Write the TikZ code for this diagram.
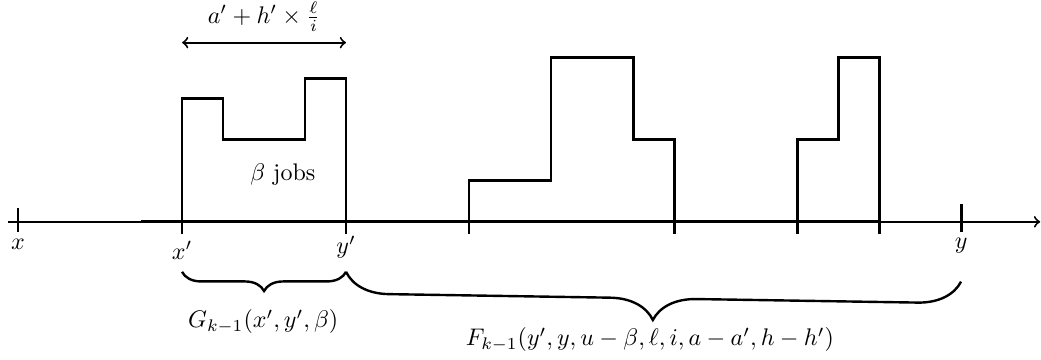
\documentclass[tikz,border=0pt]{standalone}
\usepackage{amsmath,amssymb}
\usetikzlibrary{decorations.pathreplacing}

\tikzset{
  axisline/.style={line width=0.8pt},
  block/.style={line width=1.2pt},
  tickmark/.style={line width=1.2pt},
  brace/.style={decorate,decoration={brace,mirror,amplitude=#1},line width=1pt}
}

\begin{document}
\begin{tikzpicture}[x=0.6cm,y=0.6cm]
\useasboundingbox (-0.44,-3.37) rectangle (24.95,5.41);
% time axis
\coordinate (start) at (-0.24,0);
\coordinate (end) at (24.93,0);
\draw[axisline,->] (start) -- (end);
\draw[block] (3,0) -- (21,0);
% ticks
\coordinate (x) at (0,0);
\coordinate (xp) at (4,0);
\coordinate (yp) at (8,0);
\coordinate (y) at (23,0);
\draw[tickmark] (0,0.34) -- (0,-0.24);
\foreach \t in {4,8,11,16,19,21}
  \draw[tickmark] (\t,0) -- (\t,-0.3);
\draw[tickmark] (23,0.44) -- (23,-0.24);
\node (lx) at (0,-0.56) {$x$};
\node (lxp) at (4,-0.7) {$x'$};
\node (lyp) at (8,-0.62) {$y'$};
\node (ly) at (23,-0.58) {$y$};
% jobs
\draw[block] (xp) |- (5,3) |- (7,2) |- (8,3.5) -- (yp);
\draw[block] (11,0) |- (13,1) |- (15,4) |- (16,2) -- (16,0);
\draw[block] (19,0) |- (20,2) |- (21,4) -- (21,0);
\node (jobs) at (6.46,1.15) {$\beta$ jobs};
% width of the first block
\coordinate (wl) at (4,4.37);
\coordinate (wr) at (8,4.37);
\draw[axisline,<->] (wl) -- (wr);
\node (width) at (6,5.0) {$a' + h' \times \frac{\ell}{i}$};
% braces
\coordinate (b1) at (4,-1.22);
\coordinate (b2) at (8,-1.22);
\coordinate (b3) at (23,-1.46);
\draw[brace=8pt] (b1) -- (b2);
\draw[brace=18pt] (b2) -- (b3);
\node (G) at (5.98,-2.44) {$G_{k-1}(x',y',\beta)$};
\node (F) at (15.41,-2.88) {$F_{k-1}(y',y,u-\beta,\ell,i,a-a',h-h')$};
\end{tikzpicture}
\end{document}
